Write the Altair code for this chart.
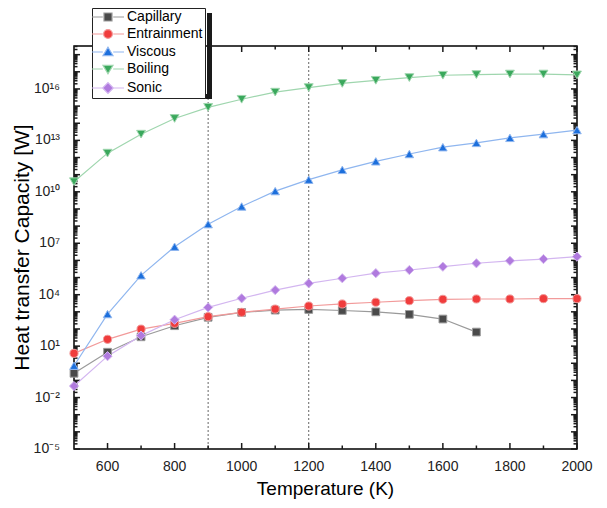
import altair as alt
import pandas as pd

# ---- data ----
temps = [500, 600, 700, 800, 900, 1000, 1100, 1200, 1300, 1400, 1500, 1600, 1700, 1800, 1900, 2000]
capillary = [0.26, 4.4, 35, 155, 480, 930, 1260, 1380, 1200, 1000, 710, 380, 66]
entrainment = [3.8, 25, 98, 214, 525, 933, 1445, 2190, 2880, 3630, 4470, 5370, 5620, 5620, 5890, 5890]
viscous = [0.72, 740, 1.35e5, 6.3e6, 1.3e8, 1.4e9, 1.1e10, 5.1e10, 1.9e11, 6.0e11, 1.6e12, 4.0e12,
           7.1e12, 1.4e13, 2.3e13, 4.0e13]
boiling = [3.9e10, 1.8e12, 2.3e13, 1.9e14, 8.5e14, 2.5e15, 6.5e15, 1.2e16, 2.1e16, 3.2e16, 4.6e16,
           6.3e16, 6.9e16, 7.4e16, 7.4e16, 6.6e16]
sonic = [0.047, 2.6, 41, 347, 1820, 6170, 1.86e4, 4.6e4, 9.1e4, 1.8e5, 2.75e5, 4.3e5, 6.8e5, 9.5e5,
         1.2e6, 1.66e6]
ref_lines = [900, 1200]

names = ["Capillary", "Entrainment", "Viscous", "Boiling", "Sonic"]
series = [capillary, entrainment, viscous, boiling, sonic]
marker_colors = ["#4a4a4a", "#f03c3c", "#1c6fdc", "#3aa85c", "#b07ade"]
line_colors = ["#9a9a9a", "#f29a9a", "#8fb6ef", "#9fd6ae", "#d3b6f0"]
marker_shapes = ["square", "circle", "triangle-up", "triangle-down", "diamond"]
marker_sizes = [60, 85, 100, 100, 110]
legend_paths = [
    "M-4,0H-1.3M1.3,0H4M-1,-1H1V1H-1Z",
    "M-4,0H-1.3M1.3,0H4M1.1,0A1.1,1.1 0 1,1 -1.1,0A1.1,1.1 0 1,1 1.1,0Z",
    "M-4,0H-1.3M1.3,0H4M0,-1.2L1.25,0.9H-1.25Z",
    "M-4,0H-1.3M1.3,0H4M0,1.2L1.25,-0.9H-1.25Z",
    "M-4,0H-1.4M1.4,0H4M0,-1.35L1.35,0L0,1.35L-1.35,0Z",
]

x_major = [600, 800, 1000, 1200, 1400, 1600, 1800, 2000]
x_minor = [700, 900, 1100, 1300, 1500, 1700, 1900]
x_tick_labels = ["600", "800", "1000", "1200", "1400", "1600", "1800", "2000"]
y_label_exps = [-5, -2, 1, 4, 7, 10, 13, 16]
y_tick_labels = ["10⁻⁵", "10⁻²", "10¹", "10⁴", "10⁷", "10¹⁰", "10¹³", "10¹⁶"]
x_title = "Temperature (K)"
y_title = "Heat transfer Capacity [W]"

rows = []
for n, vals in zip(names, series):
    for t, v in zip(temps, vals):
        rows.append({"T": t, "Q": v, "Series": n})
df = pd.DataFrame(rows)

FONT = "Liberation Sans"
INK = "#1a1a1a"
W, H = 503, 403
MAJ, MIN = 6, 3.5
xscale = alt.Scale(domain=[500, 2000], nice=False, zero=False)
yscale = alt.Scale(type="log", domain=[1e-5, 3.2e18], nice=False)

y_major = [10.0 ** e for e in range(-5, 19)]
y_minor = [k * 10.0 ** e for e in range(-5, 19) for k in range(2, 10) if k * 10.0 ** e <= 3.2e18]

X = alt.X("T:Q", scale=xscale, axis=None)
Y = alt.Y("Q:Q", scale=yscale, axis=None)

base = alt.Chart(df)

lines = base.mark_line(strokeWidth=1.2).encode(
    x=X, y=Y,
    color=alt.Color("Series:N", scale=alt.Scale(domain=names, range=line_colors), legend=None),
    order="T:Q",
)

points = base.mark_point(filled=True, strokeWidth=1, opacity=1).encode(
    x=X, y=Y,
    shape=alt.Shape("Series:N", scale=alt.Scale(domain=names, range=marker_shapes), legend=None),
    fill=alt.Fill("Series:N", scale=alt.Scale(domain=names, range=marker_colors), legend=None),
    stroke=alt.Stroke("Series:N", scale=alt.Scale(domain=names, range=line_colors), legend=None),
    size=alt.Size("Series:N", scale=alt.Scale(domain=names, range=marker_sizes), legend=None),
)

rules = alt.Chart(pd.DataFrame({"T": ref_lines})).mark_rule(
    color="#666666", strokeDash=[2, 2], strokeWidth=1
).encode(x=X)


# ---- tick marks, pointing inward on all four sides (tick marks, no x2/y2) ----
def yticks(values, size, right=False):
    xc = W - size / 2 if right else size / 2
    return alt.Chart(pd.DataFrame({"v": values})).mark_tick(
        orient="horizontal", size=size, thickness=1.5, color=INK, opacity=1
    ).encode(y=alt.Y("v:Q", scale=yscale, axis=None), x=alt.value(xc))


def xticks(values, size, top=False):
    yc = size / 2 if top else H - size / 2
    return alt.Chart(pd.DataFrame({"v": values})).mark_tick(
        orient="vertical", size=size, thickness=1.5, color=INK, opacity=1
    ).encode(x=alt.X("v:Q", scale=xscale, axis=None), y=alt.value(yc))


tick_layers = [
    yticks(y_major, MAJ), yticks(y_minor, MIN), yticks(y_major, MAJ, True), yticks(y_minor, MIN, True),
    xticks(x_major, MAJ), xticks(x_minor, MIN), xticks(x_major, MAJ, True), xticks(x_minor, MIN, True),
]

# ---- tick labels and titles ----
ylab = alt.Chart(pd.DataFrame({"yl": [10.0 ** e for e in y_label_exps], "lab": y_tick_labels})).mark_text(
    font=FONT, fontSize=14, color="#222222", align="right", baseline="middle"
).encode(y=alt.Y("yl:Q", scale=yscale, axis=None), x=alt.value(-14), text="lab:N")

xlab = alt.Chart(pd.DataFrame({"xl": x_major, "lab": x_tick_labels})).mark_text(
    font=FONT, fontSize=14, color="#222222", align="center", baseline="middle"
).encode(x=alt.X("xl:Q", scale=xscale, axis=None), y=alt.value(H + 18), text="lab:N")

xtitle = alt.Chart(pd.DataFrame({"t": [x_title]})).mark_text(
    font=FONT, fontSize=19, color="black", align="center", baseline="middle"
).encode(x=alt.value(W / 2), y=alt.value(H + 40), text="t:N")

ytitle = alt.Chart(pd.DataFrame({"t": [y_title]})).mark_text(
    font=FONT, fontSize=21, color="black", align="center", baseline="middle", angle=270
).encode(x=alt.value(-51), y=alt.value(H / 2), text="t:N")

# legend drop shadow: a right bar and a bottom bar
shadow_right = alt.Chart(pd.DataFrame({"s": [1]})).mark_tick(
    orient="vertical", size=86, thickness=5, color=INK, opacity=1
).encode(x=alt.value(135.5), y=alt.value(10))
shadow_bottom = alt.Chart(pd.DataFrame({"s": [2]})).mark_tick(
    orient="horizontal", size=115, thickness=5, color=INK, opacity=1
).encode(x=alt.value(80.5), y=alt.value(50.5))

leg_def = alt.Legend(title=None, orient="none", legendX=18, legendY=-38, fillColor="white",
                     strokeColor="#222222", padding=2, rowPadding=3, symbolSize=64,
                     symbolStrokeWidth=1.2, symbolOffset=7, labelOffset=12, labelFont=FONT,
                     labelFontSize=14, labelColor="black", zindex=1)

legend_layer = base.transform_filter("false").mark_point(filled=True, size=64, opacity=1).encode(
    x=X, y=Y,
    shape=alt.Shape("Series:N", scale=alt.Scale(domain=names, range=legend_paths), legend=leg_def),
    fill=alt.Fill("Series:N", scale=alt.Scale(domain=names, range=marker_colors), legend=leg_def),
    stroke=alt.Stroke("Series:N", scale=alt.Scale(domain=names, range=line_colors), legend=leg_def),
)

chart = alt.layer(rules, *tick_layers, lines, points, shadow_right, shadow_bottom, legend_layer,
                  ylab, xlab, xtitle, ytitle).resolve_scale(
    shape="independent", fill="independent", stroke="independent", size="independent", color="independent"
).properties(
    width=W, height=H,
    padding={"left": 66, "top": 38, "right": 22, "bottom": 51},
    autosize=alt.AutoSizeParams(type="none"),
).configure_view(stroke="black", strokeWidth=1.5)

chart.save("out.html", embed_options={"renderer": "svg", "actions": False})
